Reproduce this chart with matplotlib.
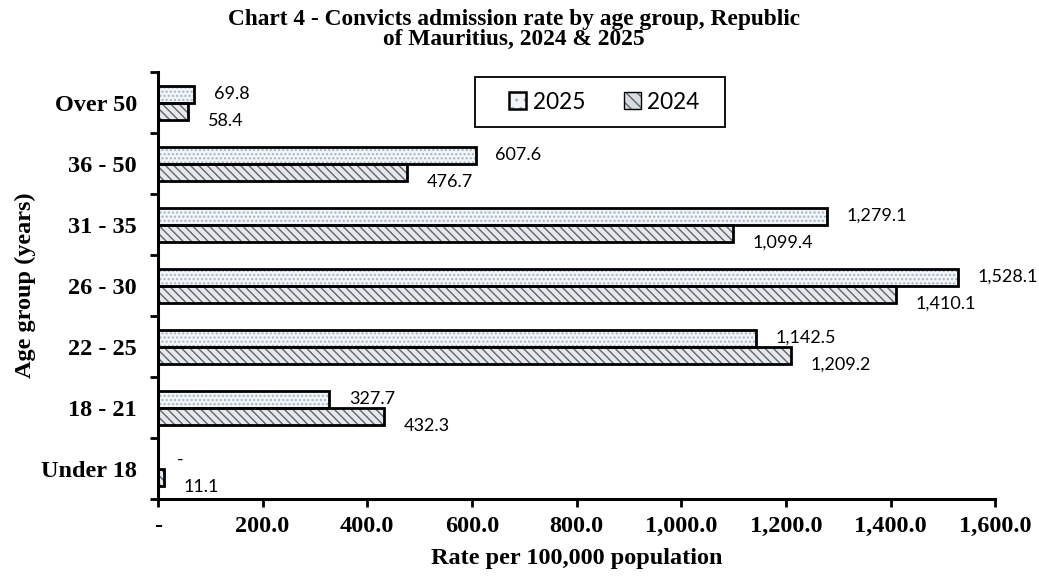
import numpy as np
import matplotlib
matplotlib.use("Agg")
from matplotlib import pyplot as plt
from matplotlib.patches import Patch, Rectangle

# data (bottom to top)
age_groups = ["Under 18", "18 - 21", "22 - 25", "26 - 30", "31 - 35", "36 - 50", "Over 50"]
rate_2025 = [0.0, 327.7, 1142.5, 1528.1, 1279.1, 607.6, 69.8]
rate_2024 = [11.1, 432.3, 1209.2, 1410.1, 1099.4, 476.7, 58.4]
labels_2025 = ["-", "327.7", "1,142.5", "1,528.1", "1,279.1", "607.6", "69.8"]
labels_2024 = ["11.1", "432.3", "1,209.2", "1,410.1", "1,099.4", "476.7", "58.4"]
x_ticks = [0, 200, 400, 600, 800, 1000, 1200, 1400, 1600]
x_tick_labels = ["-", "200.0", "400.0", "600.0", "800.0", "1,000.0", "1,200.0", "1,400.0", "1,600.0"]

serif = "Liberation Serif"
sans = "Lato"

plt.rcParams["hatch.linewidth"] = 1.0

fig = plt.figure(figsize=(10.39, 5.77), dpi=100)
ax = fig.add_axes([0.152, 0.135, 0.806, 0.740])

y = np.arange(len(age_groups))
h = 0.28

# fill + hatch layer, then black outline on top
ax.barh(y + h / 2, rate_2025, height=h, color="#f1f5f8", edgecolor="#a3b3c2",
        hatch="....", linewidth=0)
ax.barh(y - h / 2, rate_2024, height=h, color="#e6e8ea", edgecolor="#5d6670",
        hatch="\\\\\\\\", linewidth=0)
ax.barh(y + h / 2, rate_2025, height=h, fill=False, edgecolor="black", linewidth=2.0)
ax.barh(y - h / 2, rate_2024, height=h, fill=False, edgecolor="black", linewidth=2.0)

for i in range(len(age_groups)):
    ax.annotate(labels_2025[i], (rate_2025[i], y[i] + h / 2), xytext=(14, 0),
                textcoords="offset points", va="center", ha="left",
                fontsize=13, family=sans)
    ax.annotate(labels_2024[i], (rate_2024[i], y[i] - h / 2), xytext=(14, -7),
                textcoords="offset points", va="center", ha="left",
                fontsize=13, family=sans)

ax.set_xlim(0, 1600)
ax.set_ylim(-0.5, len(age_groups) - 0.5)
ax.set_xticks(x_ticks)
ax.set_xticklabels(x_tick_labels, fontsize=17.5, fontweight="bold", family=serif)
ax.set_yticks(np.arange(len(age_groups) + 1) - 0.5)
ax.set_yticklabels([])
ax.set_yticks(y, minor=True)
ax.set_yticklabels(age_groups, minor=True, fontsize=17.5, fontweight="bold", family=serif)
ax.tick_params(axis="y", which="minor", length=0, pad=15)
ax.tick_params(axis="y", which="major", length=6, width=2)
ax.tick_params(axis="x", length=6, width=2, pad=6)

for s in ["top", "right"]:
    ax.spines[s].set_visible(False)
for s in ["left", "bottom"]:
    ax.spines[s].set_linewidth(2.2)

ax.set_xlabel("Rate per 100,000 population", fontsize=17.5, fontweight="bold",
              family=serif, labelpad=8)
ax.set_ylabel("Age group (years)", fontsize=17.5, fontweight="bold", family=serif,
              labelpad=4)

fig.text(0.495, 0.985, "Chart 4 - Convicts admission rate by age group, Republic\nof Mauritius, 2024 & 2025",
         ha="center", va="top", fontsize=16.8, fontweight="bold", family=serif,
         linespacing=0.95)

# legend: box drawn separately so its size matches the original
ax.add_patch(Rectangle((0.3787, 0.871), 0.2987, 0.117, transform=ax.transAxes,
                       facecolor="white", edgecolor="black", linewidth=1.3, zorder=4))
h25 = (Patch(facecolor="#f1f5f8", edgecolor="#a3b3c2", hatch="..", linewidth=0),
       Patch(fill=False, edgecolor="black", linewidth=1.8))
h24 = (Patch(facecolor="#d9dde0", edgecolor="#5d6670", hatch="\\\\\\", linewidth=0),
       Patch(fill=False, edgecolor="black", linewidth=1.0))
leg = ax.legend([h25, h24], ["2025", "2024"], ncol=2, loc="center",
                bbox_to_anchor=(0.533, 0.93), frameon=False,
                prop={"family": sans, "size": 16.3}, handlelength=0.75, handleheight=0.75,
                handletextpad=0.3, columnspacing=1.7, borderpad=0, borderaxespad=0)
leg.set_zorder(5)

fig.savefig("out.png", dpi=100)
